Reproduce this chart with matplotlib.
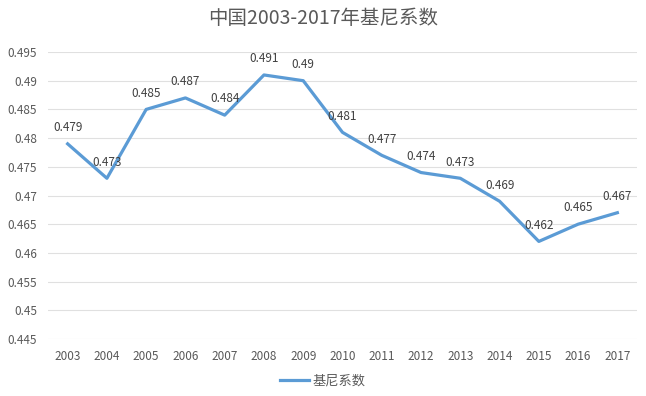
import matplotlib.pyplot as plt

plt.rcParams['font.family'] = ['Noto Sans CJK SC', 'DejaVu Sans']

years = ['2003', '2004', '2005', '2006', '2007', '2008', '2009', '2010',
         '2011', '2012', '2013', '2014', '2015', '2016', '2017']
gini = [0.479, 0.473, 0.485, 0.487, 0.484, 0.491, 0.49, 0.481,
        0.477, 0.474, 0.473, 0.469, 0.462, 0.465, 0.467]
yticks = [0.445, 0.45, 0.455, 0.46, 0.465, 0.47, 0.475, 0.48, 0.485, 0.49, 0.495]
ytick_labels = ['0.445', '0.45', '0.455', '0.46', '0.465', '0.47', '0.475',
                '0.48', '0.485', '0.49', '0.495']

fig = plt.figure(figsize=(6.46, 3.96), dpi=100)
ax = fig.add_axes([48 / 646, 1 - 339 / 396, 589 / 646, 287 / 396])

x = list(range(len(years)))
ax.plot(x, gini, color='#5B9BD5', linewidth=2.3, label='基尼系数',
        solid_joinstyle='round', zorder=3)

for xi, v in zip(x, gini):
    ax.annotate(f'{v:g}', (xi, v), xytext=(0, 7), textcoords='offset points',
                ha='center', va='bottom', fontsize=8.5, color='#404040')

ax.set_xlim(-0.5, len(years) - 0.5)
ax.set_ylim(0.445, 0.495)
ax.set_xticks(x)
ax.set_xticklabels(years)
ax.set_yticks(yticks)
ax.set_yticklabels(ytick_labels)
ax.tick_params(length=0, labelsize=8.5, labelcolor='#595959', pad=8)
ax.grid(axis='y', color='#E0E0E0', linewidth=0.8)
ax.set_axisbelow(True)
for s in ax.spines.values():
    s.set_visible(False)

fig.text(0.5, 1 - 19 / 396, '中国2003-2017年基尼系数', ha='center', va='center',
         fontsize=14, color='#595959')

fig.legend(loc='center', bbox_to_anchor=(0.5, 1 - 381 / 396), frameon=False,
           fontsize=9.5, labelcolor='#595959', handlelength=2.2, handletextpad=0.3)

fig.savefig('out.png', dpi=100)
